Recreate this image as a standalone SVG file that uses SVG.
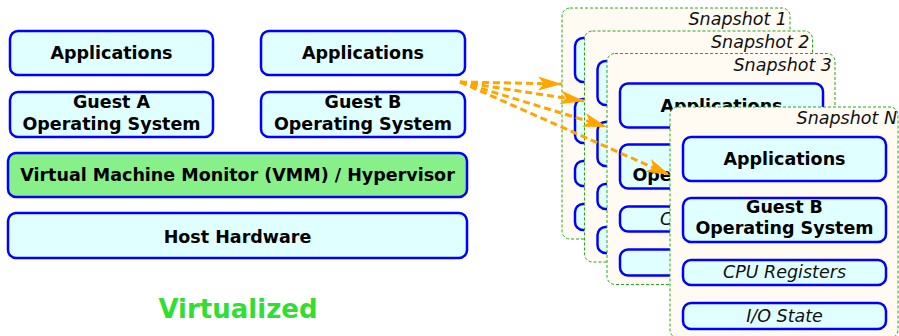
<svg xmlns="http://www.w3.org/2000/svg" width="899" height="336" viewBox="0 0 899 336">
<defs>
<style>
.box{fill:#e0ffff;stroke:#0000ff;stroke-width:2.5}
.vmm{fill:#88f088;stroke:#0000ff;stroke-width:2.5}
.frame{fill:#fffaf2;stroke:#22aa22;stroke-width:1;stroke-dasharray:3,2}
.b{font-family:"DejaVu Sans",sans-serif;font-weight:bold;font-size:17.5px;fill:#000;text-anchor:middle}
.i{font-family:"DejaVu Sans",sans-serif;font-style:italic;font-size:17.5px;fill:#111;text-anchor:middle}
.lbl{font-family:"DejaVu Sans",sans-serif;font-style:italic;font-size:17.5px;fill:#111;text-anchor:end}
.arr{fill:none;stroke:#ffa500;stroke-width:3;stroke-dasharray:7,4;marker-end:url(#ah)}
</style>
<marker id="ah" markerUnits="userSpaceOnUse" markerWidth="26" markerHeight="18" viewBox="0 0 26 18" refX="24" refY="9" orient="auto">
<path d="M0,2 L24,9 L0,16 L6,9 Z" fill="#ffa500"/>
</marker>
</defs>

<g id="appsA"><rect class="box" x="10" y="31" width="203" height="44" rx="8"/><text class="b" x="111.5" y="59">Applications</text></g>
<g id="appsB"><rect class="box" x="261" y="31" width="204" height="44" rx="8"/><text class="b" x="363" y="59">Applications</text></g>
<g id="guestA"><rect class="box" x="10" y="92" width="203" height="45" rx="8"/><text class="b" x="111.5" y="108">Guest A</text><text class="b" x="111.5" y="130">Operating System</text></g>
<g id="guestB"><rect class="box" x="261" y="92" width="204" height="45" rx="8"/><text class="b" x="363" y="108">Guest B</text><text class="b" x="363" y="130">Operating System</text></g>
<g id="vmm"><rect class="vmm" x="8" y="153" width="459" height="44" rx="8"/><text class="b" x="237.5" y="181">Virtual Machine Monitor (VMM) / Hypervisor</text></g>
<g id="host"><rect class="box" x="8" y="213" width="459" height="45" rx="8"/><text class="b" x="237.5" y="243">Host Hardware</text></g>
<text id="virtualized" x="238" y="318" font-family="DejaVu Sans, sans-serif" font-weight="bold" font-size="26" fill="#33dd33" text-anchor="middle">Virtualized</text>

<g id="snap1" transform="translate(562,8)">
<rect class="frame" x="0" y="0" width="228" height="231" rx="8"/>
<text class="lbl" x="225" y="17">Snapshot 1</text>
<rect class="box" x="13" y="30" width="203" height="44" rx="8"/>
<rect class="box" x="13" y="91" width="203" height="44" rx="8"/>
<rect class="box" x="13" y="153" width="203" height="25" rx="8"/>
<rect class="box" x="13" y="196" width="203" height="26" rx="8"/>
</g>
<g id="snap2" transform="translate(584.5,31)">
<rect class="frame" x="0" y="0" width="228" height="231" rx="8"/>
<text class="lbl" x="225" y="17">Snapshot 2</text>
<rect class="box" x="13" y="30" width="203" height="44" rx="8"/>
<rect class="box" x="13" y="91" width="203" height="44" rx="8"/>
<rect class="box" x="13" y="153" width="203" height="25" rx="8"/>
<rect class="box" x="13" y="196" width="203" height="26" rx="8"/>
</g>
<g id="snap3" transform="translate(607,53.5)">
<rect class="frame" x="0" y="0" width="228" height="231" rx="8"/>
<text class="lbl" x="225" y="17">Snapshot 3</text>
<rect class="box" x="13" y="30" width="203" height="44" rx="8"/><text class="b" x="114.5" y="58">Applications</text>
<rect class="box" x="13" y="91" width="203" height="44" rx="8"/><text class="b" x="114.5" y="127">Operating System</text>
<rect class="box" x="13" y="153" width="203" height="25" rx="8"/><text class="i" x="114.5" y="171">CPU Registers</text>
<rect class="box" x="13" y="196" width="203" height="26" rx="8"/>
</g>
<g id="snapN" transform="translate(670,107)">
<rect class="frame" x="0" y="0" width="228" height="231" rx="8"/>
<text class="lbl" x="227" y="17">Snapshot N</text>
<rect class="box" x="13" y="30" width="203" height="44" rx="8"/><text class="b" x="114.5" y="58">Applications</text>
<rect class="box" x="13" y="91" width="203" height="44" rx="8"/><text class="b" x="114.5" y="106">Guest B</text><text class="b" x="114.5" y="127">Operating System</text>
<rect class="box" x="13" y="153" width="203" height="25" rx="8"/><text class="i" x="114.5" y="171">CPU Registers</text>
<rect class="box" x="13" y="196" width="203" height="26" rx="8"/><text class="i" x="114.5" y="215">I/O State</text>
</g>

<g id="connectors">
<path class="arr" d="M460,82 L562,84"/>
<path class="arr" d="M460,82 L584,101"/>
<path class="arr" d="M460,82 L607,127"/>
<path class="arr" d="M460,82 L670,175"/>
</g>
</svg>
